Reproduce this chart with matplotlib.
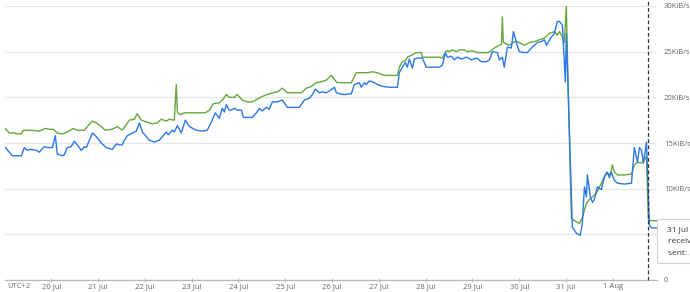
import matplotlib
matplotlib.use('Agg')
import matplotlib.pyplot as plt
import matplotlib.dates as mdates
from matplotlib.patches import Rectangle
import datetime as dt

# ---- data (times: hours since 19 Jul 22:30 local, values in KiB/s) ----
recv_hours = [-22.1, -20.0, -17.4, -15.9, -13.8, -12.8, -9.7, -4.6, -1.5, 0.5, 2.6, 4.6, 7.2, 9.7,
               12.8, 14.9, 18.5, 20.0, 22.6, 24.6, 27.2, 29.2, 32.8, 35.4, 37.9, 40.0, 41.5, 44.1,
               45.6, 47.7, 50.3, 53.3, 55.9, 57.9, 60.5, 62.0, 64.6, 65.6, 66.2, 67.7, 69.7, 72.3,
               75.4, 78.5, 80.5, 82.6, 84.6, 87.7, 89.2, 91.3, 92.8, 95.4, 96.9, 99.5, 102.0, 104.6,
               107.2, 109.7, 112.3, 114.9, 117.4, 120.0, 122.6, 127.2, 129.7, 132.3, 134.9, 137.4,
               140.0, 142.6, 145.1, 147.7, 148.2, 155.4, 157.9, 161.0, 163.6, 166.2, 168.7, 172.3,
               176.4, 179.0, 180.0, 181.5, 183.1, 184.1, 186.1, 188.7, 191.3, 191.8, 195.4, 200.5,
               202.0, 204.1, 205.6, 207.2, 209.2, 210.8, 213.3, 214.9, 217.4, 220.0, 222.6, 225.6,
               228.7, 231.3, 232.3, 232.8, 233.3, 236.4, 239.0, 241.5, 244.1, 246.7, 249.2, 251.8,
               254.4, 256.9, 259.5, 261.0, 262.1, 263.6, 264.6, 265.6, 266.7, 268.2, 269.7, 272.3,
               273.8, 275.9, 277.4, 279.0, 281.0, 283.6, 286.2, 287.7, 288.7, 289.2, 290.3, 291.8,
               295.4, 299.0, 300.5, 302.1, 304.1, 305.2, 306.7, 307.7, 309.3, 311.8]
recv_kib = [16.6, 16.1, 16.1, 16.0, 16.0, 16.4, 16.4, 16.3, 16.6, 16.5, 16.5, 16.1, 16.0, 16.2,
            16.6, 16.4, 16.4, 16.8, 17.4, 17.2, 16.8, 16.4, 16.5, 16.8, 16.4, 17.0, 17.5, 17.6,
            18.2, 17.5, 17.3, 17.1, 17.2, 17.6, 17.4, 17.6, 17.5, 21.4, 18.3, 18.1, 18.3, 18.3,
            18.3, 18.3, 18.3, 18.6, 19.3, 19.4, 19.7, 20.3, 20.0, 20.0, 20.3, 19.7, 19.5, 19.5,
            19.8, 20.1, 20.3, 20.5, 20.6, 21.0, 20.5, 20.5, 20.5, 21.0, 21.2, 21.6,
            21.7, 21.9, 22.4, 21.7, 21.6, 21.6, 22.7, 22.7, 22.7, 22.8, 22.7, 22.4,
            22.4, 22.4, 23.3, 23.9, 24.0, 24.4, 24.6, 24.9, 24.9, 24.4, 24.4, 24.4,
            24.3, 25.1, 25.0, 25.2, 25.0, 25.2, 25.2, 25.0, 25.1, 24.9, 24.9, 24.9,
            25.4, 25.7, 25.8, 28.8, 26.0, 25.7, 26.1, 26.0, 25.7, 26.0, 26.1, 26.3,
            26.5, 27.0, 27.2, 26.8, 27.2, 26.6, 26.0, 30.0, 19.7, 6.8, 6.5, 6.2,
            6.8, 8.4, 8.8, 9.1, 9.5, 10.6, 11.8, 11.5, 12.0, 12.6, 11.8, 11.5,
            11.5, 11.6, 12.6, 12.9, 12.8, 13.1, 13.5, 6.6, 6.5, 6.5]

sent_hours = [-22.1, -20.0, -18.5, -13.8, -12.3, -10.8, -9.2, -6.2, -4.6, -2.1, -0.5, 2.1, 3.6, 4.6,
              7.2, 8.2, 9.7, 11.8, 13.3, 14.9, 16.9, 18.5, 19.5, 22.6, 24.6, 27.2, 29.7, 32.8,
              34.9, 36.4, 37.9, 39.0, 40.5, 43.1, 45.1, 46.7, 48.2, 50.3, 51.8, 54.4, 56.9, 58.5,
              60.5, 61.5, 63.6, 64.6, 66.2, 68.2, 70.3, 72.3, 75.9, 79.0, 81.5, 83.6, 85.6, 87.7,
              89.2, 90.3, 91.3, 92.8, 93.8, 95.4, 96.9, 99.0, 100.0, 104.6, 106.7, 108.2, 109.7,
              111.8, 113.3, 114.9, 117.4, 120.0, 122.6, 128.7, 131.3, 133.8, 135.4, 136.9, 139.0,
              140.5, 142.6, 144.1, 146.7, 147.7, 149.2, 151.8, 155.4, 156.9, 159.5, 160.5, 162.0,
              163.1, 164.6, 166.2, 167.2, 168.7, 171.3, 174.9, 179.0, 180.0, 181.5, 183.1, 184.1,
              185.1, 186.7, 187.7, 189.2, 191.8, 193.8, 196.9, 200.5, 202.0, 203.6, 204.6, 206.7,
              208.2, 209.7, 211.8, 214.4, 216.9, 219.5, 222.1, 224.6, 226.2, 227.7, 230.3, 231.3,
              232.8, 233.8, 235.4, 237.4, 238.5, 240.0, 241.5, 244.1, 245.6, 247.7, 249.2, 250.8,
              252.8, 254.4, 255.4, 257.9, 259.5, 261.0, 262.1, 263.6, 265.1, 265.6, 266.7, 268.7,
              270.8, 272.8, 273.8, 274.9, 275.9, 276.4, 277.9, 279.0, 280.0, 281.5, 283.6, 285.1,
              286.7, 287.7, 288.7, 290.3, 291.8, 295.4, 299.0, 300.5, 302.1, 303.1, 304.1, 305.2,
              306.7, 308.2, 309.3, 311.8]
sent_kib = [14.5, 14.0, 13.6, 13.6, 14.5, 14.2, 14.3, 14.2, 14.0, 14.6, 14.5, 14.5, 15.8, 13.8,
            13.6, 13.7, 14.5, 14.6, 15.2, 14.8, 14.2, 14.6, 14.5, 16.1, 15.7, 15.0, 14.5, 14.3,
            14.9, 14.8, 14.8, 15.3, 15.8, 16.1, 16.3, 17.2, 16.2, 15.7, 15.3, 15.1, 15.3, 15.7,
            16.2, 15.9, 16.4, 16.2, 16.9, 16.1, 17.5, 16.8, 16.4, 16.3, 16.4, 17.3, 18.3, 17.7,
            18.8, 18.4, 19.2, 18.6, 18.6, 18.8, 18.6, 18.6, 17.8, 17.8, 18.3, 18.8, 18.5,
            18.9, 18.7, 19.5, 19.5, 19.7, 18.9, 18.9, 19.7, 19.9, 20.3, 20.9, 20.5,
            20.6, 20.5, 20.7, 21.1, 20.5, 20.4, 20.3, 20.4, 21.4, 21.6, 21.1, 21.6,
            21.4, 21.8, 21.7, 21.6, 21.4, 21.2, 21.1, 21.1, 22.7, 23.3, 23.8, 23.3,
            24.2, 23.2, 24.2, 24.3, 24.3, 23.3, 23.3, 23.3, 23.5, 24.9, 24.4, 24.5,
            24.1, 24.4, 24.2, 24.4, 24.1, 24.3, 23.9, 23.9, 24.1, 25.0, 24.9, 24.1,
            24.4, 23.3, 25.5, 25.4, 27.2, 26.0, 25.0, 24.9, 24.9, 25.4, 25.7, 26.0,
            26.1, 26.3, 25.7, 26.6, 27.0, 28.3, 28.3, 27.9, 21.7, 27.0, 19.7, 5.8,
            5.1, 4.9, 6.2, 10.2, 9.1, 11.5, 9.1, 8.5, 8.8, 10.2, 9.9, 11.3,
            11.8, 11.2, 11.8, 10.9, 10.6, 10.5, 10.6, 14.5, 12.9, 14.5, 14.2, 12.8,
            15.1, 6.0, 5.7, 5.7]

y_ticks = [0, 5, 10, 15, 20, 25, 30]
y_labels = ['0', '5KiB/s', '10KiB/s', '15KiB/s', '20KiB/s', '25KiB/s', '30KiB/s']
t0 = dt.datetime(2024, 7, 19, 22, 30)
x_start = dt.datetime(2024, 7, 19, 0, 18)
x_end = dt.datetime(2024, 8, 1, 22, 36)
cursor_time = dt.datetime(2024, 8, 1, 18, 0)
tooltip_lines = ['31 Jul 2024 01:00', 'received: 6.5KiB/s', 'sent: 5.7KiB/s']

recv_t = [t0 + dt.timedelta(hours=h) for h in recv_hours]
sent_t = [t0 + dt.timedelta(hours=h) for h in sent_hours]

plt.rcParams['font.family'] = ['Open Sans', 'DejaVu Sans']
W, H = 690, 292
fig = plt.figure(figsize=(W / 100, H / 100), dpi=100)
ax = fig.add_axes([5 / W, 12 / H, 652 / W, 274 / H])

GREEN = '#66a63c'
BLUE = '#2a78e6'
ax.plot(recv_t, recv_kib, color=GREEN, lw=1.0, zorder=3)
ax.plot(sent_t, sent_kib, color=BLUE, lw=1.0, zorder=4)

ax.set_xlim(x_start, x_end)
ax.set_ylim(0, 30)
ax.set_yticks(y_ticks)
ax.set_yticklabels(y_labels)
ax.yaxis.tick_right()
ax.tick_params(axis='y', length=0, pad=5, labelsize=5.5, labelcolor='#666666')
ax.grid(axis='y', color='#e6e6e6', lw=0.9)
ax.set_axisbelow(True)

ax.xaxis.set_major_locator(mdates.DayLocator())
ax.xaxis.set_major_formatter(mdates.DateFormatter('%-d %b'))
ax.tick_params(axis='x', length=2.5, width=0.8, color='#b8b8b8', pad=0.8, direction='inout',
               labelsize=5.5, labelcolor='#666666')
for s in ['top', 'left', 'right']:
    ax.spines[s].set_visible(False)
ax.spines['bottom'].set_color('#b8b8b8')
ax.spines['bottom'].set_linewidth(0.9)

ax.axvline(cursor_time, ymin=0, ymax=1 + 6 / 274, color='#333333', lw=0.9,
           linestyle=(0, (3, 2)), clip_on=False, zorder=5)

fig.text(7 / W, 1 - 286.5 / H, 'UTC+2', fontsize=5.5, color='#666666', ha='left', va='center')

# tooltip
fig.patches.append(Rectangle((657 / W, 1 - 263 / H), 60 / W, 44 / H, transform=fig.transFigure,
                             facecolor='white', edgecolor='#d0d0d0', lw=0.8, zorder=10))
fig.text(667 / W, 1 - 229.5 / H, tooltip_lines[0], fontsize=6, color='#333333', ha='left',
         va='center', zorder=11)
fig.text(668 / W, 1 - 241.5 / H, tooltip_lines[1], fontsize=6, color='#333333', ha='left',
         va='center', zorder=11)
fig.text(668 / W, 1 - 253.5 / H, tooltip_lines[2], fontsize=6, color='#333333', ha='left',
         va='center', zorder=11)
ax.plot([662 / W], [1 - 241.5 / H], marker='s', ms=3.2, color=GREEN, transform=fig.transFigure,
        clip_on=False, zorder=12)
ax.plot([662 / W], [1 - 253.5 / H], marker='o', ms=3.2, color='#1a5fe0', transform=fig.transFigure,
        clip_on=False, zorder=12)

fig.savefig('out.png', dpi=100)
